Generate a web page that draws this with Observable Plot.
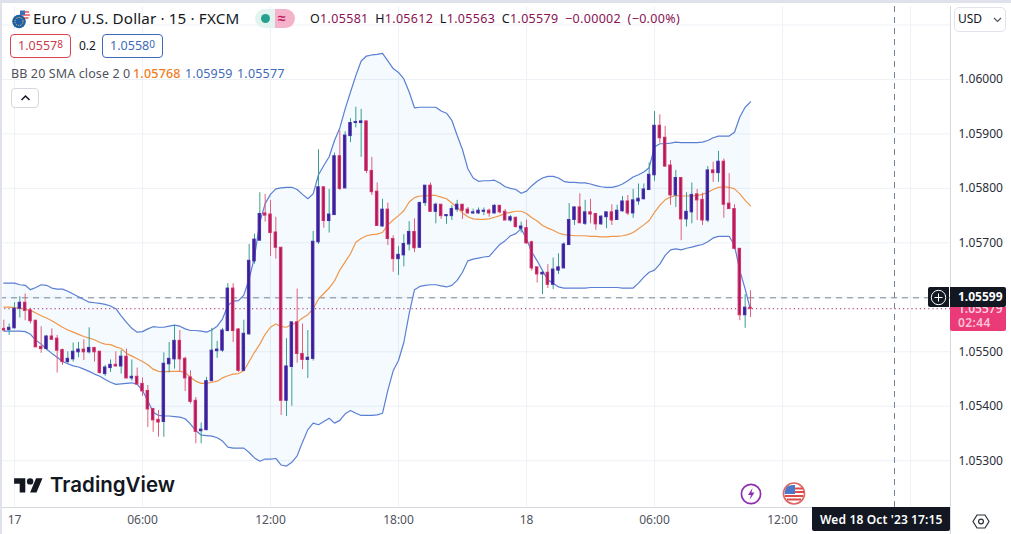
<!DOCTYPE html>
<html><head><meta charset="utf-8">
<script src="https://cdn.jsdelivr.net/npm/d3@7"></script>
<script src="https://cdn.jsdelivr.net/npm/@observablehq/plot@0.6"></script>
<style>
html,body{margin:0;padding:0;background:#fff;width:1011px;height:534px;overflow:hidden;font-family:"Noto Sans",sans-serif;color:#131722}
#wrap{position:relative;width:1011px;height:534px;overflow:hidden}
#chart{position:absolute;left:0;top:0}
.o{position:absolute;white-space:nowrap;line-height:1}
.box{position:absolute;box-sizing:border-box;border-radius:4px;background:#fff;height:24px;width:61px;text-align:center;line-height:22px;font-size:12.5px}
sup{font-size:10px;line-height:0;vertical-align:2px}
</style></head><body>
<div id="wrap"><div id="chart"></div></div>
<script>
// All prices are stored as points (1/100000) above 1.05
const firstBar = -2; // bar numbers count 15-minute bars from 17 Oct 00:00
const opens = [542,540,543,579,590,576,557,509,505,528,524,503,481,486,499,504,499,507,500,459,470,476,473,491,451,454,441,428,395,375,371,477,486,520,487,453,410,354,356,446,501,502,538,616,541,465,532,666,704,754,752,719,691,410,472,554,496,485,487,701,802,740,751,859,800,896,920,920,923,832,794,730,761,707,670,677,697,720,691,773,805,757,770,749,749,761,770,761,754,754,757,759,754,768,757,741,746,726,727,701,655,642,645,623,649,653,696,742,765,735,756,753,734,747,756,742,758,776,754,776,780,797,824,915,893,842,787,819,743,756,789,779,741,833,828,849,772,762,689,567,581];
const closes = [539,544,579,590,575,556,508,505,528,522,502,481,487,500,504,499,507,499,461,471,476,473,491,451,454,440,427,394,374,370,478,487,520,486,451,408,353,357,446,502,504,539,616,538,465,533,667,706,753,750,718,691,410,473,554,496,485,489,702,802,740,752,859,799,897,920,922,923,832,793,731,761,707,670,678,698,720,690,773,805,757,770,749,751,762,770,759,754,756,759,759,754,768,756,741,747,729,730,699,653,642,645,623,651,655,697,742,765,736,756,752,734,748,756,741,759,776,754,778,781,798,825,915,892,840,787,819,743,757,788,778,741,833,828,849,770,762,689,567,581,579];
const highs = [558,551,590,601,606,580,557,546,530,542,530,505,500,516,517,522,544,507,501,475,485,500,502,505,485,470,452,438,395,392,498,517,548,539,490,465,416,369,453,543,519,543,625,625,542,558,697,716,792,789,778,747,691,524,554,615,551,539,721,871,802,798,865,906,904,928,949,945,923,857,810,780,773,713,693,715,739,744,775,805,810,773,770,752,768,778,770,765,762,764,764,762,770,768,761,750,747,738,742,703,655,649,660,672,680,700,772,766,790,778,780,753,750,756,770,769,785,787,798,808,808,847,941,935,914,851,833,819,792,810,798,791,840,848,868,854,827,770,689,605,612];
const lows = [538,530,542,562,557,551,508,497,502,522,461,475,478,481,489,484,496,481,459,455,462,472,459,450,446,438,418,361,352,343,343,461,468,462,427,404,331,331,355,445,488,499,537,517,462,464,530,661,704,738,675,670,383,381,400,479,467,451,483,697,727,718,750,796,799,884,911,857,827,787,730,729,695,646,640,656,685,682,690,767,756,735,743,734,741,756,743,753,752,752,750,747,753,753,741,738,727,718,697,648,626,605,616,614,642,653,695,732,735,732,735,723,732,726,732,741,756,750,745,769,779,796,813,883,839,769,765,704,729,735,741,732,737,811,811,745,761,687,557,543,563];
const upperBand = [626,626,626,623,622,614,618,623,622,617,615,615,611,606,601,596,591,590,589,587,584,579,566,554,543,536,537,542,546,545,545,547,549,547,542,539,539,538,536,540,547,560,585,593,594,604,634,674,738,772,789,799,801,802,802,798,789,781,790,825,842,858,888,911,946,977,1007,1034,1043,1045,1046,1048,1034,1020,1013,1001,977,948,949,949,949,949,942,938,925,897,871,836,819,813,814,814,815,810,803,800,798,791,795,805,813,819,822,822,819,813,811,811,810,810,808,805,803,802,802,804,808,814,821,825,830,838,876,882,882,883,885,884,884,884,884,885,888,893,896,896,896,903,931,949,959];
const middleBand = [582,582,581,580,578,576,571,566,562,557,551,545,540,536,532,528,525,522,517,514,513,509,506,497,492,487,482,476,468,464,463,464,464,464,462,453,446,442,442,444,446,452,456,459,460,465,482,499,514,532,545,551,546,545,550,554,562,568,579,597,607,617,630,650,665,680,701,708,713,715,716,719,733,742,750,759,775,783,786,786,787,787,784,781,773,765,755,748,744,743,743,744,747,750,754,756,758,758,754,746,740,732,727,723,718,715,714,713,713,713,712,712,711,711,712,712,713,715,719,726,733,741,756,769,779,784,787,786,786,786,787,789,793,798,802,803,802,799,790,778,768];
const lowerBand = [538,538,538,538,537,532,521,514,505,497,490,482,478,474,472,468,464,459,455,449,444,440,441,442,443,440,429,410,389,383,382,382,381,380,377,367,355,347,346,345,342,336,325,323,323,323,315,305,299,303,303,304,292,290,297,309,334,357,369,366,372,378,369,374,386,392,387,383,383,383,384,387,429,465,484,517,570,614,620,622,623,623,621,619,622,631,646,667,670,672,674,675,686,697,704,713,717,726,707,683,667,649,632,626,619,617,617,617,617,617,618,618,618,618,618,618,617,617,617,626,637,646,650,661,677,687,689,687,690,692,695,697,702,709,712,712,712,695,649,615,577];
const priceTicks = [1.053,1.054,1.055,1.056,1.057,1.058,1.059,1.06];
const gridPrices = [1.053,1.054,1.055,1.056,1.057,1.058,1.059,1.06,1.061];
const timeTicks = [0,24,48,72,96,120];
const timeLabels = ["17","06:00","12:00","18:00","18","06:00","12:00"];
const gridTimes = [0,24,48,72,96,120,144,168];
const timeTicksAll = [0,24,48,72,96,120,144];
const crosshairPrice = 1.05599, lastPrice = 1.05579, crosshairBar = 165;
const price = p => 1.05 + p / 1e5;

const bars = opens.map((o,k)=>({i:firstBar+k,open:price(o),close:price(closes[k]),high:price(highs[k]),low:price(lows[k]),
  upper:price(upperBand[k]),middle:price(middleBand[k]),lower:price(lowerBand[k]),up:closes[k]>=o}));
const upBars = bars.filter(d=>d.up), downBars = bars.filter(d=>!d.up);
const halfBody = 0.23;
const font = '"Noto Sans",sans-serif';

const plot = Plot.plot({
  width:1011,height:534,marginLeft:0,marginRight:61,marginTop:6,marginBottom:27,
  style:{background:"#fff",fontFamily:font,fontSize:"12px",color:"#131722",overflow:"visible"},
  x:{type:"linear",domain:[-2.625,175.5],label:null},
  y:{type:"linear",domain:[1.05214,1.06134],label:null},
  marks:[
    Plot.gridX(gridTimes,{x:d=>d,stroke:"#eef1f6",strokeOpacity:1}),
    Plot.gridY(gridPrices,{y:d=>d,stroke:"#eef1f6",strokeOpacity:1}),
    Plot.areaY(bars,{x:"i",y1:"lower",y2:"upper",fill:"#2196f3",fillOpacity:0.05}),
    Plot.ruleY([crosshairPrice],{stroke:"#758696",strokeDasharray:"6 5",strokeWidth:1}),
    Plot.ruleY([lastPrice],{stroke:"#a8256a",strokeDasharray:"1.2 3",strokeWidth:1}),
    Plot.ruleX([crosshairBar],{stroke:"#758696",strokeDasharray:"6 5",strokeWidth:1}),
    Plot.line(bars,{x:"i",y:"upper",stroke:"#5a7fd4",strokeWidth:1.2}),
    Plot.line(bars,{x:"i",y:"lower",stroke:"#5a7fd4",strokeWidth:1.2}),
    Plot.line(bars,{x:"i",y:"middle",stroke:"#f0974a",strokeWidth:1.2}),
    Plot.ruleX(upBars,{x:"i",y1:"low",y2:"high",stroke:"#3a9d8f",strokeWidth:1}),
    Plot.ruleX(downBars,{x:"i",y1:"low",y2:"high",stroke:"#e0607a",strokeWidth:1}),
    Plot.rect(upBars,{x1:d=>d.i-halfBody,x2:d=>d.i+halfBody,y1:"open",y2:"close",fill:"#3f1a94",stroke:"#4530ab",strokeWidth:1}),
    Plot.rect(downBars,{x1:d=>d.i-halfBody,x2:d=>d.i+halfBody,y1:"open",y2:"close",fill:"#ad1860",stroke:"#d33066",strokeWidth:1}),
    Plot.ruleX([175.5],{stroke:"#d6d8df",strokeWidth:1}),
    Plot.ruleY([1.05214],{stroke:"#d6d8df",strokeWidth:1}),
    Plot.axisY({anchor:"right",ticks:priceTicks,tickFormat:d3.format(".5f"),tickSize:0,tickPadding:8,label:null,fill:"#2a2e39",fontSize:12}),
    Plot.axisX({anchor:"bottom",ticks:timeTicksAll,tickFormat:i=>timeLabels[timeTicksAll.indexOf(i)],tickSize:0,tickPadding:8,label:null,fill:"#50535e",fontSize:12})
  ]
});
document.getElementById("chart").append(plot);

const yPos = plot.scale("y").apply;
const wrap = document.getElementById("wrap");
function add(html){wrap.insertAdjacentHTML("beforeend",html)}
const crossY = plot.scale("y").apply(crosshairPrice), lastY = plot.scale("y").apply(lastPrice);

// frame
add(`<div style="position:absolute;left:0;top:0;width:1011px;height:2.5px;background:#dfe2ea"></div>
<div style="position:absolute;left:0;top:0;width:1.5px;height:534px;background:#dfe2ea"></div>
<div style="position:absolute;left:950px;top:507px;width:1px;height:27px;background:#d6d8df"></div>`);
// header
add(`<svg style="position:absolute;left:11px;top:9px" width="20" height="20" viewBox="0 0 20 20">
<circle cx="14" cy="6" r="5" fill="#fff" stroke="#ddd" stroke-width=".4"/><path d="M10 3h8M9.5 6h9.5M10.5 9h7" stroke="#e25563" stroke-width="1.4"/><path d="M9 1.5h5v4.5h-5z" fill="#3f6fb5"/>
<circle cx="8" cy="12.5" r="6.8" fill="#1f5fa8"/><circle cx="8" cy="12.5" r="4" fill="none" stroke="#f5d547" stroke-width="1" stroke-dasharray="1 1.1"/></svg>`);
add(`<div class="o" style="left:33px;top:11px;font-size:15.2px;letter-spacing:.15px;color:#131722">Euro / U.S. Dollar · 15 · FXCM</div>`);
add(`<div style="position:absolute;left:255px;top:9px;width:20px;height:19px;background:#e2f3f0;border-radius:10px 0 0 10px"></div>
<div style="position:absolute;left:275px;top:9px;width:20px;height:19px;background:#f5b3cb;border-radius:0 10px 10px 0"></div>
<div style="position:absolute;left:261px;top:14px;width:9px;height:9px;border-radius:5px;background:#26a08f"></div>
<div class="o" style="left:278px;top:11px;font-size:14px;font-weight:700;color:#c2185b">≈</div>`);
const cr='color:#8a1253';
add(`<div class="o" style="left:310px;top:12.5px;font-size:12.5px;letter-spacing:.32px;word-spacing:3px;color:#131722">O<span style="${cr}">1.05581</span> H<span style="${cr}">1.05612</span> L<span style="${cr}">1.05563</span> C<span style="${cr}">1.05579</span> <span style="${cr}">−0.00002 (−0.00%)</span></div>`);
add(`<div class="box" style="left:10px;top:34px;border:1px solid #d9434f;color:#c8404e">1.0557<sup>8</sup></div>
<div class="o" style="left:79px;top:40px;font-size:12px;color:#131722">0.2</div>
<div class="box" style="left:102px;top:34px;border:1px solid #3f6ab8;color:#3f6ab8">1.0558<sup>0</sup></div>`);
add(`<div class="o" style="left:11px;top:68px;font-size:12.5px;letter-spacing:.12px;color:#50535e">BB 20 SMA close 2 0</div>
<div class="o" style="left:133px;top:68px;font-size:12.5px;font-weight:500;letter-spacing:.2px;color:#ef7d1a">1.05768</div>
<div class="o" style="left:185px;top:68px;font-size:12.5px;letter-spacing:.2px;color:#3f6ab8">1.05959</div>
<div class="o" style="left:237px;top:68px;font-size:12.5px;letter-spacing:.2px;color:#3f6ab8">1.05577</div>`);
add(`<div style="position:absolute;left:11px;top:88px;width:28px;height:20px;box-sizing:border-box;background:#fff;border:1px solid #d6d8df;border-radius:4px"></div>
<svg style="position:absolute;left:20px;top:94px" width="11" height="8" viewBox="0 0 11 8"><path d="M1.5 6 L5.5 2 L9.5 6" fill="none" stroke="#131722" stroke-width="1.5"/></svg>`);
// logo
add(`<svg style="position:absolute;left:14px;top:475px" width="29" height="22.4" viewBox="0 0 36 28"><path d="M14 22H7V11H0V4h14v18zM28 22h-8l7.5-18h8L28 22z" fill="#131722"/><circle cx="20" cy="8" r="4" fill="#131722"/></svg>
<div class="o" style="left:50px;top:475px;font-family:Inter,sans-serif;font-size:20.5px;font-weight:600;color:#131722">TradingView</div>`);
// event icons
add(`<svg style="position:absolute;left:740px;top:483px" width="22" height="22" viewBox="0 0 22 22"><circle cx="11" cy="11" r="9.6" fill="#fff" stroke="#8e2fb0" stroke-width="1.7"/><path d="M12.5 5 L8 12 H11 L9.5 17 L14.5 9.6 H11.5 Z" fill="#8e2fb0"/></svg>
<svg style="position:absolute;left:782px;top:482px" width="24" height="23" viewBox="0 0 24 23"><circle cx="12" cy="11.5" r="10.5" fill="#fff" stroke="#e06666" stroke-width="1.6"/><path d="M13 6.5h8M13 10h9M3 14h18M5 17.5h14" stroke="#dd4a4a" stroke-width="2"/><path d="M5 4.5 Q8 2.5 13 3 V12 H2.5 Q3 7 5 4.5z" fill="#4b78c9"/></svg>`);
// right side
add(`<div style="position:absolute;left:954px;top:7px;width:52px;height:25px;box-sizing:border-box;border:1px solid #e0e3eb;border-radius:5px;background:#fff"></div>
<div class="o" style="left:958px;top:13px;font-size:12px;color:#131722">USD</div>
<svg style="position:absolute;left:993px;top:17px" width="9" height="6" viewBox="0 0 9 6"><path d="M1 1 L4.5 4.5 L8 1" fill="none" stroke="#50535e" stroke-width="1.2"/></svg>`);
add(`<div style="position:absolute;left:950px;top:${Math.round(crossY)+10}px;width:56px;height:24px;background:#ea3a77;border-radius:0 0 2px 2px"></div>
<div class="o" style="left:958px;top:${Math.round(lastY)-5}px;font-size:12px;font-weight:600;color:#fbd0de">1.05579</div>
<div class="o" style="left:958px;top:${Math.round(lastY)+9}px;font-size:12px;font-weight:600;letter-spacing:.4px;color:#fbc2d6">02:44</div>
<div style="position:absolute;left:950px;top:${Math.round(crossY)-10}px;width:56px;height:20px;background:#131722;border-radius:0 2px 2px 0"></div>
<div class="o" style="left:958px;top:${Math.round(crossY)-6}px;font-size:12px;font-weight:700;color:#fff">1.05599</div>
<div style="position:absolute;left:928px;top:${Math.round(crossY)-10}px;width:21px;height:20px;background:#131722;border-radius:2px 0 0 2px"></div>
<svg style="position:absolute;left:930px;top:${Math.round(crossY)-8}px" width="17" height="17" viewBox="0 0 17 17"><circle cx="8.5" cy="8.5" r="7.2" fill="none" stroke="#fff" stroke-width="1"/><path d="M8.5 4.5v8M4.5 8.5h8" stroke="#fff" stroke-width="1"/></svg>`);
add(`<div style="position:absolute;left:812px;top:507px;width:138px;height:24px;background:#131722;border-radius:0 0 2px 2px"></div>
<div class="o" style="left:820px;top:514px;font-size:12px;font-weight:600;color:#fff;letter-spacing:.15px">Wed 18 Oct '23</div>
<div class="o" style="left:911px;top:514px;font-size:12px;font-weight:600;color:#fff;letter-spacing:.15px">17:15</div>`);
add(`<svg style="position:absolute;left:972px;top:513px" width="18" height="17" viewBox="0 0 18 17"><path d="M5 2 H13 L17 8.5 L13 15 H5 L1 8.5 Z" fill="none" stroke="#2a2e39" stroke-width="1.2"/><circle cx="9" cy="8.5" r="2.4" fill="none" stroke="#2a2e39" stroke-width="1.2"/></svg>`);
</script></body></html>
